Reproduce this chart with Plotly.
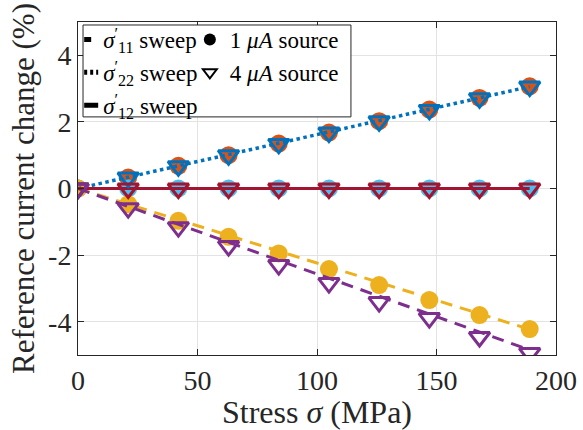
import plotly.graph_objects as go

# ---- data ----
stress = [0, 21, 42, 63, 84, 105, 126, 147, 168, 189]

# sigma'11 sweep (simulation) and measurements
s11_sweep_1uA = [0, -0.47, -0.94, -1.41, -1.88, -2.35, -2.82, -3.29, -3.76, -4.23]
s11_sweep_4uA = [0, -0.54, -1.08, -1.62, -2.16, -2.69, -3.23, -3.77, -4.31, -4.85]
s11_meas_1uA = [0, -0.47, -0.97, -1.45, -1.95, -2.42, -2.90, -3.35, -3.80, -4.22]
s11_meas_4uA = [0, -0.59, -1.16, -1.73, -2.30, -2.84, -3.41, -3.89, -4.46, -4.94]

# sigma'22 sweep and measurements
s22_sweep = [0, 0.34, 0.68, 1.02, 1.36, 1.70, 2.04, 2.38, 2.72, 3.06]
s22_meas_1uA = [0, 0.33, 0.68, 1.00, 1.35, 1.68, 2.02, 2.37, 2.72, 3.07]
s22_meas_4uA = [0, 0.33, 0.67, 1.00, 1.34, 1.68, 2.02, 2.36, 2.71, 3.06]

# sigma'12 sweep and measurements
s12_sweep = [0, 0, 0, 0, 0, 0, 0, 0, 0, 0]
s12_meas_1uA = [0, 0, 0, 0, 0, 0, 0, 0, 0, 0]
s12_meas_4uA = [0, 0, 0, 0, 0, 0, 0, 0, 0, 0]

x_ticks = [0, 50, 100, 150, 200]
y_ticks = [-4, -2, 0, 2, 4]
y_tick_labels = ["-4", "-2", "0", "2", "4"]

# ---- styles ----
BLUE = "#0072BD"
ORANGE = "#D95319"
YELLOW = "#EDB120"
PURPLE = "#7E2F8E"
LBLUE = "#4DBEEE"
CRIMSON = "#A2142F"
FONT = "Liberation Serif"

fig = go.Figure()

# circles (1 uA source)
for ys, c in [(s22_meas_1uA, ORANGE), (s12_meas_1uA, LBLUE), (s11_meas_1uA, YELLOW)]:
    fig.add_trace(go.Scatter(x=stress, y=ys, mode="markers", showlegend=False,
                             marker=dict(symbol="circle", size=18, color=c, line=dict(width=0))))

# sweep lines
fig.add_trace(go.Scatter(x=stress, y=s11_sweep_1uA, mode="lines", showlegend=False,
                         line=dict(color=YELLOW, width=3, dash="12px,8px")))
fig.add_trace(go.Scatter(x=stress, y=s11_sweep_4uA, mode="lines", showlegend=False,
                         line=dict(color=PURPLE, width=3, dash="12px,8px")))
fig.add_trace(go.Scatter(x=stress, y=s22_sweep, mode="lines", showlegend=False,
                         line=dict(color=BLUE, width=3.5, dash="3.5px,3.5px")))
fig.add_trace(go.Scatter(x=stress, y=s12_sweep, mode="lines", showlegend=False,
                         line=dict(color=CRIMSON, width=3)))

# triangles (4 uA source)
for ys, c in [(s22_meas_4uA, BLUE), (s12_meas_4uA, CRIMSON), (s11_meas_4uA, PURPLE)]:
    fig.add_trace(go.Scatter(x=stress, y=ys, mode="markers", showlegend=False,
                             marker=dict(symbol="triangle-down-open", size=18, color=c,
                                         line=dict(width=3, color=c))))

# legend entries (black symbols, short samples like the reference)
fig.add_trace(go.Scatter(x=[None], y=[None], mode="lines", legend="legend",
                         name="<i>σ</i><sup>′</sup><sub>11</sub> sweep",
                         line=dict(color="black", width=3.5, dash="0px,16px,7px,200px")))
fig.add_trace(go.Scatter(x=[None], y=[None], mode="lines", legend="legend",
                         name="<i>σ</i><sup>′</sup><sub>22</sub> sweep",
                         line=dict(color="black", width=3,
                                   dash="0px,16px,3px,3px,3px,3px,3px,200px")))
fig.add_trace(go.Scatter(x=[None], y=[None], mode="lines", legend="legend",
                         name="<i>σ</i><sup>′</sup><sub>12</sub> sweep",
                         line=dict(color="black", width=3.5, dash="0px,16px,18px,200px")))
fig.add_trace(go.Scatter(x=[None], y=[None], mode="markers", legend="legend2",
                         name="1 <i>μA</i> source",
                         marker=dict(symbol="circle", size=18, color="black")))
fig.add_trace(go.Scatter(x=[None], y=[None], mode="markers", legend="legend2",
                         name="4 <i>μA</i> source",
                         marker=dict(symbol="triangle-down-open", size=18, color="black",
                                     line=dict(width=3.5, color="black"))))

legend_common = dict(bgcolor="rgba(0,0,0,0)", borderwidth=0, xanchor="left", yanchor="top",
                     font=dict(family=FONT, size=23, color="black"), itemwidth=30,
                     tracegroupgap=0, itemsizing="constant")

axis_common = dict(showline=True, linecolor="#262626", linewidth=1, mirror="ticks",
                   ticks="inside", ticklen=6, tickcolor="#262626", showgrid=True,
                   gridcolor="#e3e3e3", gridwidth=1, zeroline=False,
                   tickfont=dict(family=FONT, size=28, color="#262626"))

fig.update_layout(
    width=583, height=430,
    margin=dict(l=78, r=27, t=22, b=75, autoexpand=False),
    paper_bgcolor="white", plot_bgcolor="white",
    font=dict(family=FONT, color="#262626"),
    xaxis=dict(range=[0, 200], tickvals=x_ticks,
               title=dict(text="Stress <i>σ</i> (MPa)", font=dict(family=FONT, size=32, color="#262626"),
                          standoff=0),
               **axis_common),
    yaxis=dict(range=[-5, 5], tickvals=y_ticks, ticktext=y_tick_labels,
               title=dict(text="Reference current change (%)", font=dict(family=FONT, size=31, color="#262626"),
                          standoff=4),
               **axis_common),
    legend=dict(x=-0.031, y=1.012, **legend_common),
    legend2=dict(x=0.234, y=1.012, **legend_common),
    shapes=[dict(type="rect", xref="paper", yref="paper", x0=0.0105, x1=0.571, y0=0.715, y1=0.991,
                 line=dict(color="#262626", width=1), fillcolor="white", layer="above")],
)

fig.write_html("out.html", config={"displayModeBar": False},
               post_script="document.body.style.margin='0';")
